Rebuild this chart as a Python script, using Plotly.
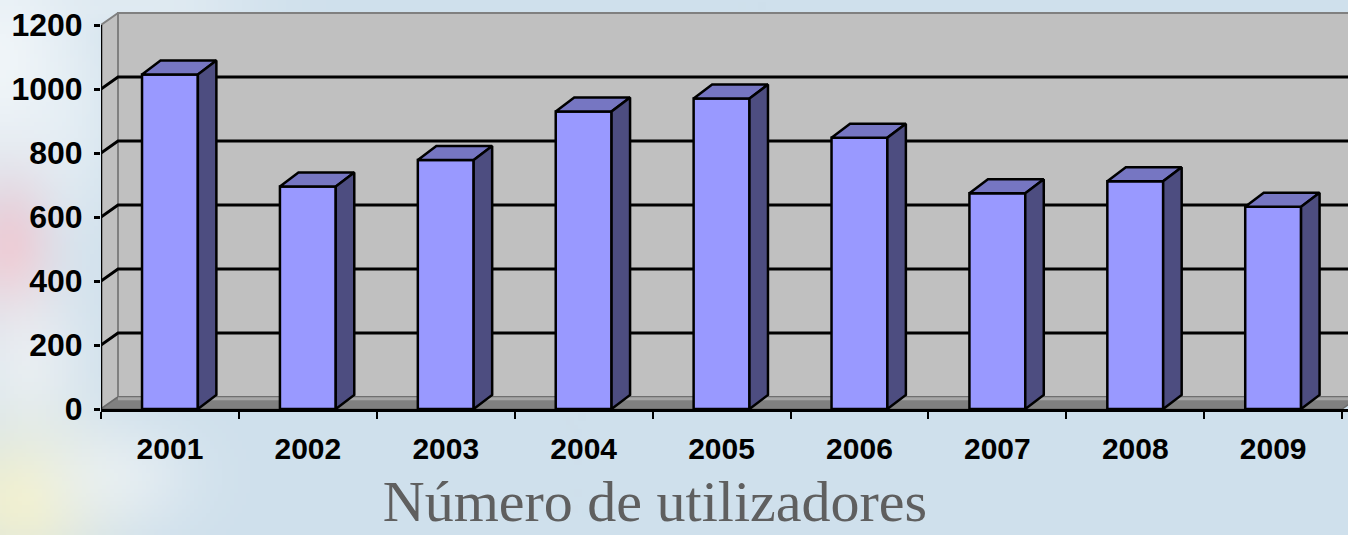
import base64, struct, zlib
import numpy as np
import plotly.graph_objects as go

# ---------------- data ----------------
years = ["2001", "2002", "2003", "2004", "2005", "2006", "2007", "2008", "2009"]
users = [1045, 695, 778, 930, 970, 848, 674, 712, 632]
y_ticks = [0, 200, 400, 600, 800, 1000, 1200]
title_text = "Número de utilizadores"

# ---------------- geometry (pixel scales) ----------------
W, H = 1348, 535
M_L, M_R, M_T, M_B = 101, 0, 12, 126
PX_PER_CAT = 137.9
PX_PER_UNIT = 0.32
plot_w = W - M_L - M_R
plot_h = H - M_T - M_B
x_range = [-0.5, -0.5 + plot_w / PX_PER_CAT]
y_range = [0, plot_h / PX_PER_UNIT]

WDX = 17 / PX_PER_CAT      # wall depth
WDY = 12 / PX_PER_UNIT
BDX = 18.5 / PX_PER_CAT    # bar depth
BDY = 14 / PX_PER_UNIT
BAR_W = 0.405
n = len(years)
xs = list(range(n))
left, right = -0.5, n - 0.5
top = y_ticks[-1]

FRONT = "#9999FF"
TOPC = "#7676C2"
SIDE = "#4D4D80"
WALL = "#C0C0C0"
FLOOR = "#808080"


# ---------------- background picture ----------------
def make_bg():
    w, h = W // 4, (H + 3) // 4
    yy, xx = np.mgrid[0:h, 0:w].astype(float)
    xx *= 4
    yy *= 4
    img = np.zeros((h, w, 3)) + np.array([207, 224, 236], float)
    blobs = [
        (0, 60, 60, 90, (246, 249, 251), 0.85),
        (60, 130, 40, 80, (236, 243, 247), 0.5),
        (8, 250, 30, 50, (240, 198, 208), 0.85),
        (25, 360, 45, 60, (247, 247, 247), 0.6),
        (20, 500, 55, 50, (248, 243, 200), 0.8),
        (115, 475, 55, 40, (244, 247, 249), 0.55),
        (160, 4, 70, 14, (240, 245, 248), 0.5),
    ]
    for cx, cy, sx, sy, col, s in blobs:
        a = s * np.exp(-(((xx - cx) / sx) ** 2 + ((yy - cy) / sy) ** 2) / 2)
        img = img * (1 - a[..., None]) + np.array(col, float) * a[..., None]
    arr = np.clip(img, 0, 255).astype(np.uint8)
    raw = b"".join(b"\x00" + arr[r].tobytes() for r in range(h))

    def chunk(tag, data):
        c = struct.pack(">I", len(data)) + tag + data
        return c + struct.pack(">I", zlib.crc32(tag + data) & 0xFFFFFFFF)

    png = b"\x89PNG\r\n\x1a\n" + chunk(b"IHDR", struct.pack(">IIBBBBB", w, h, 8, 2, 0, 0, 0))
    png += chunk(b"IDAT", zlib.compress(raw, 9)) + chunk(b"IEND", b"")
    return "data:image/png;base64," + base64.b64encode(png).decode()


fig = go.Figure()


def poly(xp, yp, fill, line_color, lw):
    fig.add_trace(go.Scatter(x=xp + [xp[0]], y=yp + [yp[0]], mode="lines", fill="toself",
                             fillcolor=fill, line=dict(color=line_color, width=lw),
                             hoverinfo="skip", showlegend=False))


# side wall
poly([left, left + WDX, left + WDX, left], [0, WDY, top + WDY, top], WALL, "#808080", 2)
# back wall
poly([left + WDX, right + WDX, right + WDX, left + WDX], [WDY, WDY, top + WDY, top + WDY],
     WALL, "#808080", 2)

# gridlines (front tick -> side wall -> back wall)
for v in y_ticks[1:-1]:
    fig.add_trace(go.Scatter(x=[left, left + WDX, right + WDX], y=[v, v + WDY, v + WDY],
                             mode="lines", line=dict(color="black", width=3),
                             hoverinfo="skip", showlegend=False))

# floor
poly([left, left + WDX, right + WDX, right], [0, WDY, WDY, 0], FLOOR, "#6a6a6a", 1.5)
fig.add_trace(go.Scatter(x=[left + WDX, right + WDX], y=[WDY * 0.85, WDY * 0.85], mode="lines",
                         line=dict(color="#A6A6A6", width=3), hoverinfo="skip", showlegend=False))

# bars: front, top, side faces
for x, v in zip(xs, users):
    l, r = x - BAR_W / 2, x + BAR_W / 2
    poly([l, r, r, l], [0, 0, v, v], FRONT, "black", 2.5)
    poly([l, r, r + BDX, l + BDX], [v, v, v + BDY, v + BDY], TOPC, "black", 2.5)
    poly([r, r + BDX, r + BDX, r], [0, BDY, v + BDY, v], SIDE, "black", 2.5)

# front value axis line
fig.add_trace(go.Scatter(x=[left, left], y=[0, top], mode="lines", line=dict(color="black", width=2.5),
                         cliponaxis=False, hoverinfo="skip", showlegend=False))

x_font = dict(family="Liberation Sans, Arial, sans-serif", size=30, color="black", weight="bold")
y_font = dict(family="Liberation Sans, Arial, sans-serif", size=32, color="black", weight="bold")

fig.update_layout(
    width=W, height=H,
    margin=dict(l=M_L, r=M_R, t=M_T, b=M_B, pad=0),
    paper_bgcolor="#CFE0EC",
    plot_bgcolor="rgba(0,0,0,0)",
    images=[dict(source=make_bg(), xref="paper", yref="paper", x=-M_L / plot_w, y=1 + M_T / plot_h,
                 sizex=W / plot_w, sizey=H / plot_h, xanchor="left", yanchor="top",
                 sizing="stretch", layer="below")],
    xaxis=dict(range=x_range, tickvals=xs, ticktext=years, ticks="", showgrid=False, zeroline=False,
               showline=True, linecolor="black", linewidth=2.5, tickfont=x_font,
               ticklabelstandoff=11,
               minor=dict(tickmode="linear", tick0=-0.5, dtick=1, ticks="outside", ticklen=7,
                          tickwidth=2, tickcolor="black", showgrid=False)),
    yaxis=dict(range=y_range, tickvals=y_ticks, ticks="outside", ticklen=6, tickwidth=2.5,
               tickcolor="black", showgrid=False, zeroline=False, showline=False,
               tickfont=y_font, ticklabelstandoff=5),
    title=dict(text=title_text, xref="container", yref="container", x=655 / W, y=34 / H,
               xanchor="center", yanchor="middle",
               font=dict(family="Liberation Serif, Times New Roman, serif", size=58, color="#5F5F5F")),
)

fig.write_html("out.html", config={"displayModeBar": False},
               post_script="document.body.style.margin='0px';document.body.style.overflow='hidden';")
